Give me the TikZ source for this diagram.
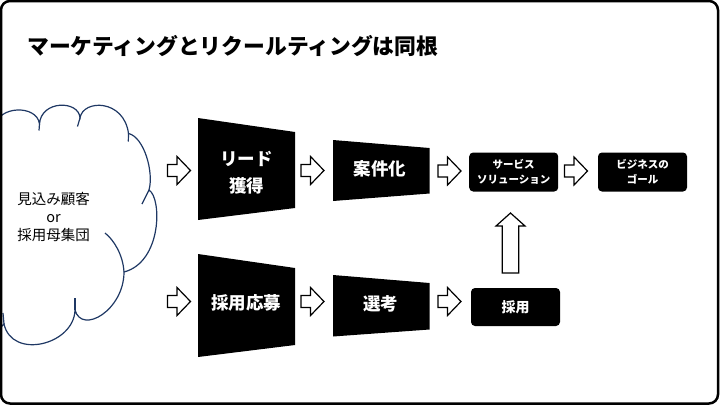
\documentclass[tikz,border=0pt]{standalone}
\usepackage{fontspec}
\setmainfont{Noto Sans CJK JP}
\usetikzlibrary{positioning}
\definecolor{cloudblue}{HTML}{1F3864}

\begin{document}
\begin{tikzpicture}
[
x=1pt, y=-1pt,
cloud-a/.style={draw=cloudblue, line width=1.2pt},
trap-a/.style={fill=black},
text-a/.style={text=white, font=\bfseries\fontsize{17.5}{27}\selectfont, align=center, inner sep=0pt},
box-a/.style={fill=black, rounded corners=4pt, text=white, align=center, minimum width=89pt, minimum height=39pt, inner sep=0pt},
arrow-r/.pic={\draw[fill=white, line width=1.2pt] (-11.5,-6) -- (-2,-6) -- (-2,-14) -- (11.5,0) -- (-2,14) -- (-2,6) -- (-11.5,6) -- cycle;},
arrow-u/.pic={\draw[fill=white, line width=1.2pt] (-8.3,30) -- (-8.3,-17) -- (-14.5,-17) -- (0,-30) -- (14.5,-17) -- (8.3,-17) -- (8.3,30) -- cycle;},
]
\useasboundingbox (0,0) rectangle (720,405);
\node (tt) [anchor=west, inner sep=0pt, font=\bfseries\fontsize{21.8}{24}\selectfont] at (27,46.5) {マーケティングとリクールティングは同根};

\draw [cloud-a] (-4,126) .. controls (-3,106) and (37,104) .. (39.5,124)
      .. controls (41,100) and (79,100) .. (80,118)
      .. controls (83,99) and (124,99) .. (128.5,133.5)
      .. controls (144,137) and (154,172) .. (149,190)
      .. controls (162,198) and (162,262) .. (124,272)
      .. controls (124,310) and (82,335) .. (75,310)
      .. controls (74,345) and (12,360) .. (4,324)
      .. controls (0,328) and (-4,332) .. (-10,334);
\draw [cloud-a] (39.5,124) -- (39,130.5);
\draw [cloud-a] (80,118) -- (77.5,126.5);
\draw [cloud-a] (128.5,133.5) -- (128.3,141.5);
\draw [cloud-a] (149,190) .. controls (146,196) .. (142,204);
\draw [cloud-a] (105,233) .. controls (114,240) and (123,255) .. (124,272);
\draw [cloud-a] (75,310) -- (75,298);
\draw [cloud-a] (4,324) -- (3,313);
\node (nc) [align=center, inner sep=0pt, font=\fontsize{14.5}{18}\selectfont] at (53.5,217) {見込み顧客\\or\\採用母集団};

\fill [trap-a] (198,118) -- (295,132) -- (295,208) -- (198,220) -- cycle;
\node (nl) [text-a] at (246.5,173) {リード\\獲得};
\fill [trap-a] (333,140) -- (429.5,148) -- (429.5,193.5) -- (333,201) -- cycle;
\node (nk) [text-a] at (380,169) {案件化};
\fill [trap-a] (198,254) -- (295,268) -- (295,345) -- (198,357) -- cycle;
\node (no) [text-a] at (246,303) {採用応募};
\fill [trap-a] (333,275) -- (429.5,283) -- (429.5,329.5) -- (333,336.5) -- cycle;
\node (ns) [text-a] at (380.5,304) {選考};

\node (nv) [box-a, font=\bfseries\fontsize{10.5}{15}\selectfont] at (513.7,172) {サービス\\ソリューション};
\node (ng) [box-a, font=\bfseries\fontsize{10.5}{15}\selectfont] at (642.5,172) {ビジネスの\\ゴール};
\node (nr) [box-a, minimum height=38pt, font=\bfseries\fontsize{14}{16}\selectfont] at (515.5,307) {採用};

\pic at (179,170.5) {arrow-r};
\pic at (312.5,170.5) {arrow-r};
\pic at (449.5,171) {arrow-r};
\pic at (576,171) {arrow-r};
\pic at (179,301.5) {arrow-r};
\pic at (312.5,301.5) {arrow-r};
\pic at (449.5,301.5) {arrow-r};
\pic at (510.5,243) {arrow-u};

\draw [line width=2.5pt, rounded corners=9pt] (1,1) rectangle (718,403.5);
\end{tikzpicture}
\end{document}
